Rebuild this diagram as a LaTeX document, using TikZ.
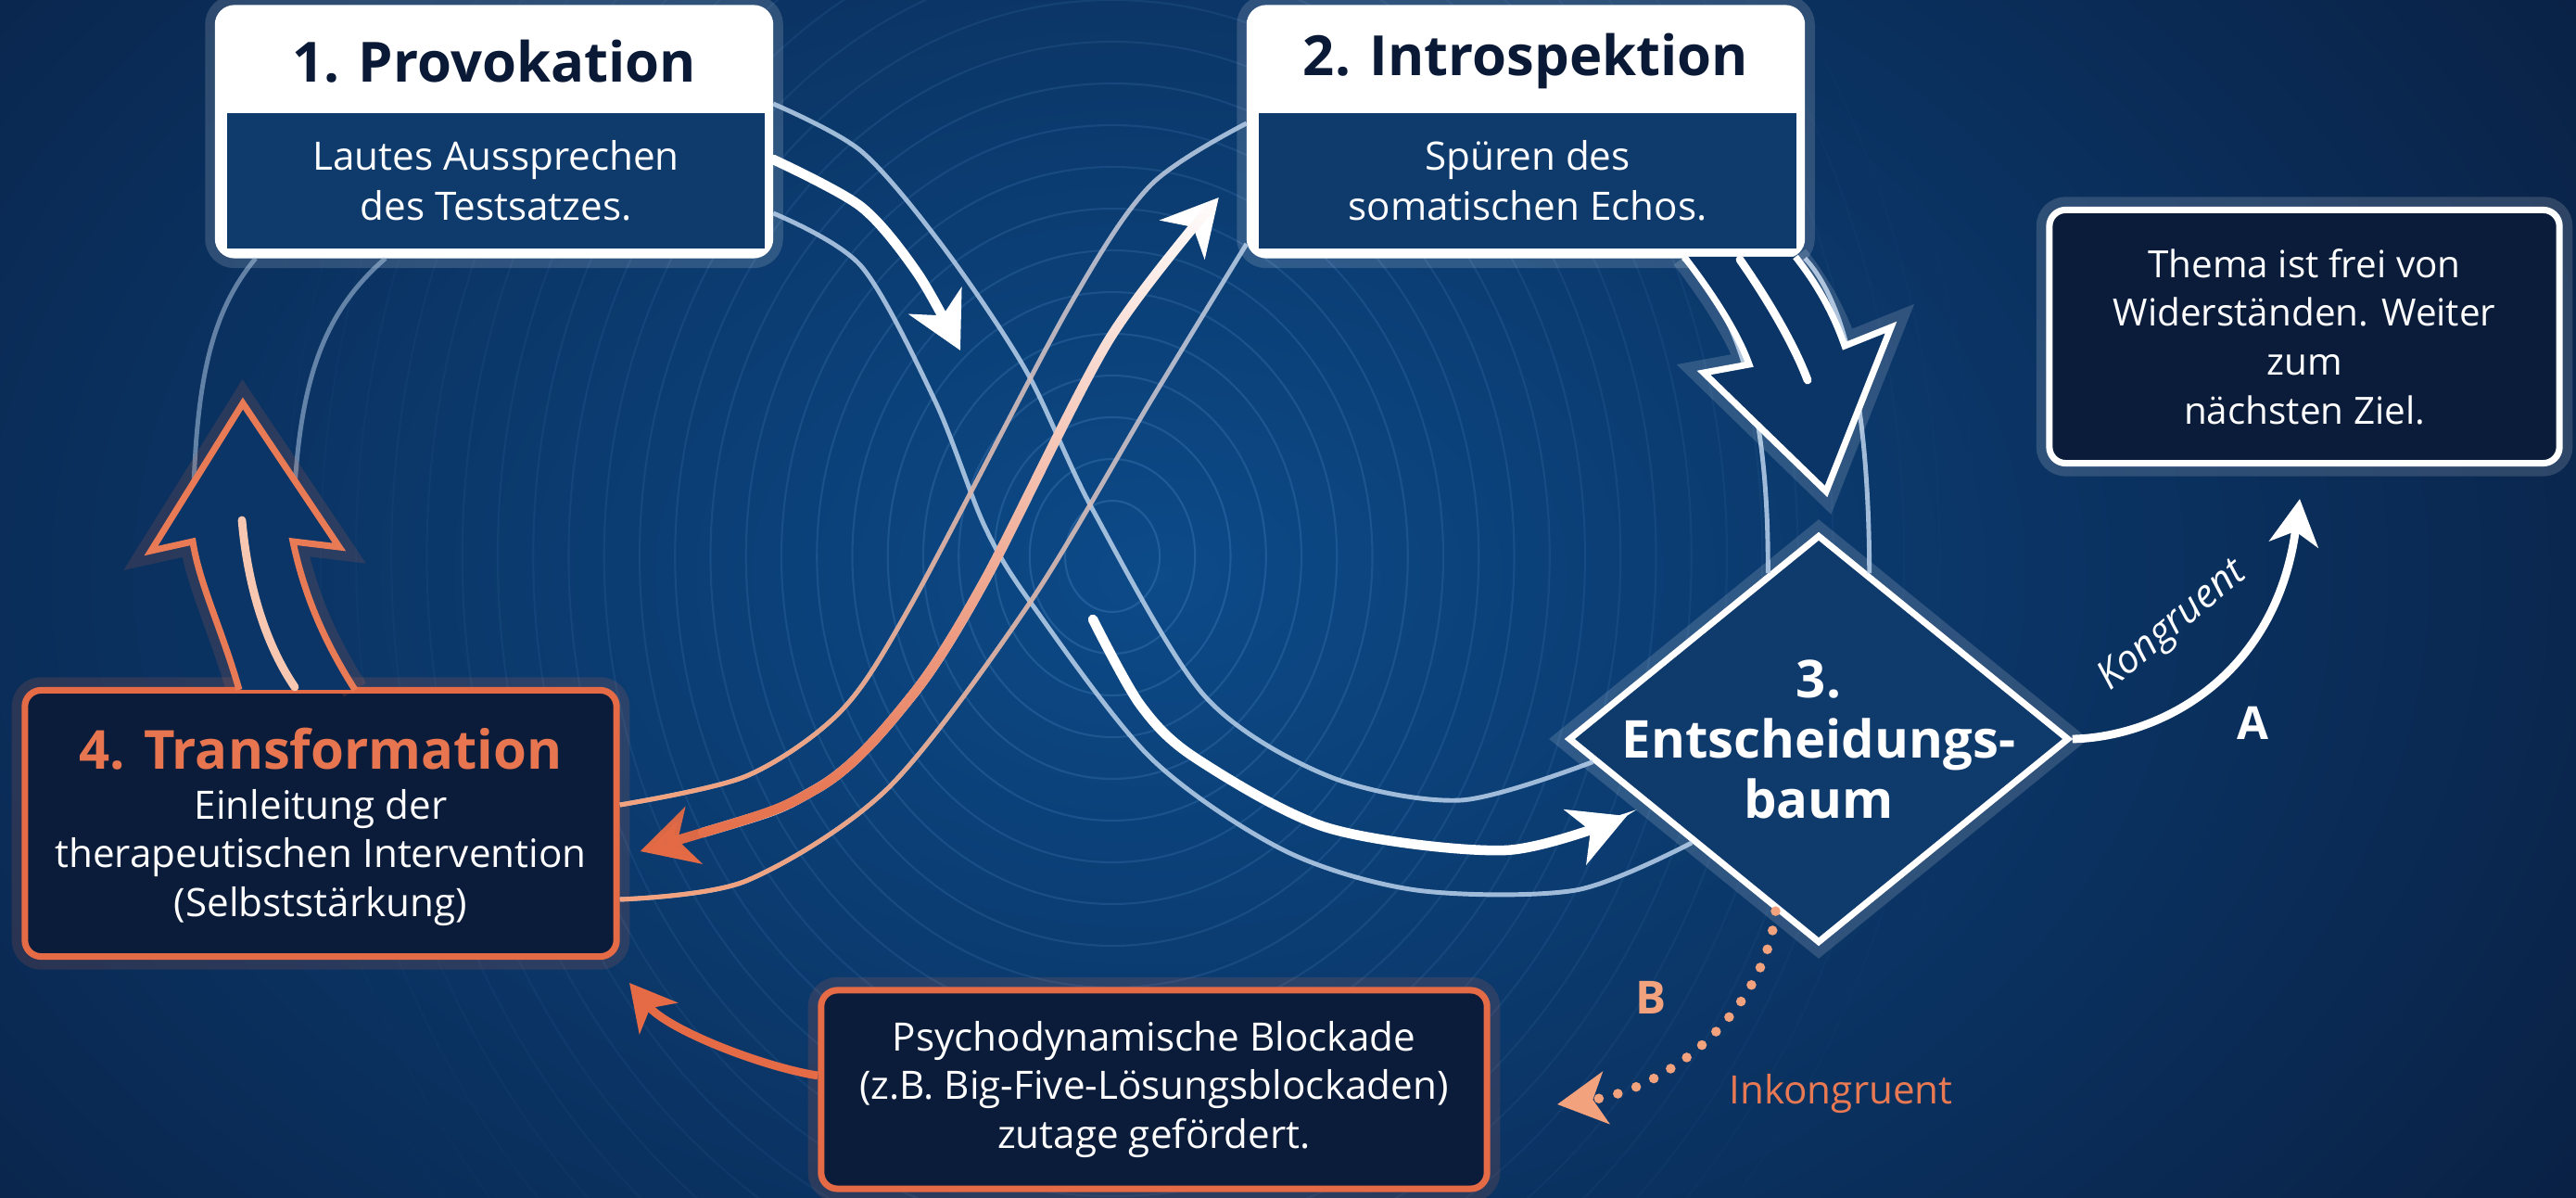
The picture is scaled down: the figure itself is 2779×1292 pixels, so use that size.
\documentclass[tikz,border=0pt]{standalone}
\usepackage{fontspec}
\setmainfont{Open Sans}
\usetikzlibrary{calc,shapes.geometric,arrows.meta,fadings}

\definecolor{bgdark}{HTML}{091C3D}
\definecolor{bgmid}{HTML}{0C4A88}
\definecolor{ringblue}{HTML}{5E9CD8}
\definecolor{bandblue}{HTML}{BBD2EC}
\definecolor{navytext}{HTML}{0A1A36}
\definecolor{panelblue}{HTML}{0F3A6C}
\definecolor{darkbox}{HTML}{0B1C3A}
\definecolor{warmorange}{HTML}{E46B45}
\definecolor{peach}{HTML}{F3A27E}

\tikzset{
    glow/.style={preaction={draw=#1, line width=8pt, opacity=0.15}},
    glow/.default=white,
    card/.style={draw=white, fill=white, line width=2pt, rounded corners=5pt,
        minimum width=5.95cm, minimum height=2.66cm, glow},
    cardpanel/.style={fill=panelblue, minimum width=5.8cm, minimum height=1.45cm,
        text=white, align=center, font=\fontsize{12}{15.5}\selectfont},
    cardtitle/.style={text=navytext, font=\fontsize{17}{20}\selectfont\bfseries},
    infobox/.style={draw=white, fill=darkbox, line width=2pt, rounded corners=5pt,
        text=white, align=center, font=\fontsize{11.5}{15}\selectfont, glow},
    warmbox/.style={draw=warmorange, fill=darkbox, line width=2pt, rounded corners=5pt,
        glow=warmorange},
    warmtitle/.style={text=warmorange!80!peach, font=\fontsize{16.5}{20}\selectfont\bfseries},
    bodytext/.style={text=white, align=center, font=\fontsize{12}{14.8}\selectfont},
    decision/.style={diamond, draw=white, fill=panelblue, line width=2pt,
        minimum width=5.4cm, minimum height=4.4cm, inner sep=0pt, glow},
    ringline/.style={draw=ringblue, line width=0.6pt},
    bandline/.style={draw=bandblue, line width=1.4pt, opacity=0.85},
    flowline/.style={draw=white, line width=3pt, line cap=round,
        -{Stealth[length=17pt, width=18pt, inset=5pt]}},
    hollowarrow/.style={line width=2pt, line join=miter, fill=bgdark!45!bgmid},
    warmline/.style={draw=warmorange, line width=2.5pt,
        -{Stealth[length=14pt, width=15pt, inset=4pt]}},
    whiteline/.style={draw=white, line width=2.5pt,
        -{Stealth[length=14pt, width=15pt, inset=4pt]}},
    dotline/.style={draw=peach, line width=3pt, line cap=round, dash pattern=on 0pt off 6pt,
        -{Stealth[length=15pt, width=16pt, inset=4pt]}},
}

\begin{document}
\begin{tikzpicture}[x=0.01cm, y=-0.01cm]
    \useasboundingbox (0, 0) rectangle (2779, 1292);
    \fill[bgdark] (0, 0) rectangle (2779, 1292);
    \shade[inner color=bgmid, outer color=bgdark] (1250, 620) ellipse (2000 and 1400);
    \foreach \rad in {60, 105, ..., 1100}
        \draw[ringline, opacity={0.26*(1-\rad/1150)}] (1200, 600) ellipse ({0.85*\rad} and \rad);

    \node[card] (prov) at (533, 142) {};
    \node[cardpanel] (provtext) at (535, 195) {Lautes Aussprechen\\des Testsatzes.};
    \node[cardtitle] (provtitle) at (533, 66) {1. Provokation};

    \node[card] (intro) at (1646, 142) {};
    \node[cardpanel] (introtext) at (1648, 195) {Spüren des\\somatischen Echos.};
    \node[cardtitle] (introtitle) at (1646, 66) {2. Introspektion};

    \node[infobox, minimum width=5.5cm, minimum height=2.73cm] (goal) at (2486, 363)
        {Thema ist frei von\\Widerständen. Weiter\\zum\\nächsten Ziel.};

    \node[decision] (tree) at (1962, 797) {};
    \node[text=white, align=center, font=\fontsize{16}{18.5}\selectfont\bfseries] (treetext)
        at (1962, 797) {3.\\Entscheidungs-\\baum};

    \node[warmbox, minimum width=6.38cm, minimum height=2.87cm] (trans) at (346, 888) {};
    \node[warmtitle] (transtitle) at (346, 808) {4. Transformation};
    \node[bodytext] (transtext) at (346, 925)
        {Einleitung der\\therapeutischen Intervention\\(Selbststärkung)};

    \node[warmbox, bodytext, minimum width=7.18cm, minimum height=2.14cm] (block) at (1245, 1175)
        {Psychodynamische Blockade\\(z.B. Big-Five-Lösungsblockaden)\\zutage gefördert.};

    \coordinate (a-up) at ($(prov.east)+(0, -30)$);
    \coordinate (a-mid) at ($(prov.east)+(0, 30)$);
    \coordinate (a-low) at ($(prov.east)+(0, 88)$);
    \coordinate (a-up-end) at ($(tree.west)!0.11!(tree.south)$);
    \coordinate (a-low-end) at ($(tree.west)!0.5!(tree.south)$);
    \coordinate (a-tip) at (1755, 880);

    \draw[bandline] plot[smooth] coordinates {(a-up) (929, 163) (1018, 267) (1107, 400)
        (1179, 550) (1299, 750) (1433, 837) (1576, 863) (a-up-end)};
    \draw[bandline] plot[smooth] coordinates {(a-low) (929, 287) (1009, 433) (1062, 567)
        (1112, 650) (1241, 817) (1385, 917) (1528, 960) (1700, 960) (a-low-end)};
    \draw[flowline] plot[smooth] coordinates {(a-mid) (929, 223) (990, 295) (1036, 378)};
    \draw[flowline] plot[smooth] coordinates {(1179, 668) (1230, 760) (1289, 817) (1433, 893)
        (1624, 917) (a-tip)};

    \coordinate (b-up) at ($(trans.east)+(0, -20)$);
    \coordinate (b-mid) at ($(trans.east)+(22, 30)$);
    \coordinate (b-low) at ($(trans.east)+(0, 82)$);
    \coordinate (b-up-end) at ($(intro.west)+(0, -9)$);
    \coordinate (b-tip) at ($(intro.west)+(-30, 71)$);
    \coordinate (b-low-end) at ($(intro.west)+(0, 121)$);

    \draw[bandline] plot[smooth] coordinates {(b-up) (805, 837) (907, 767) (984, 650)
        (1152, 333) (1241, 200) (b-up-end)};
    \draw[bandline, draw=peach, opacity=1, path fading=north] plot[smooth] coordinates {(b-up)
        (805, 837) (907, 767) (984, 650) (1152, 333) (1241, 200) (b-up-end)};
    \draw[bandline] plot[smooth] coordinates {(b-low) (805, 950) (958, 850) (1111, 650)
        (1241, 433) (b-low-end)};
    \draw[bandline, draw=peach, opacity=1, path fading=north] plot[smooth] coordinates {(b-low)
        (805, 950) (958, 850) (1111, 650) (1241, 433) (b-low-end)};
    \draw[flowline, shorten <=20pt] plot[smooth] coordinates {(b-mid) (882, 850) (984, 750)
        (1063, 625) (1196, 367) (b-tip)};
    \draw[flowline, draw=warmorange, path fading=north, {Stealth[length=17pt, width=18pt, inset=5pt]}-]
        plot[smooth] coordinates {(b-mid) (882, 850) (984, 750) (1063, 625)
        (1196, 367) (b-tip)};

    \draw[bandline] ($(intro.south)+(170, 0)$) .. controls (1880, 340) and (1908, 450)
        .. ($(tree.north)!0.2!(tree.west)$);
    \draw[bandline] (intro.south east) .. controls (1995, 330) and (2016, 450)
        .. ($(tree.north)!0.2!(tree.east)$);
    \draw[bandline, opacity=0.5] ($(prov.south west)+(44, 0)$) .. controls (225, 340) and (208, 420) .. (208, 590);
    \draw[bandline, opacity=0.5] ($(prov.south west)+(184, 0)$) .. controls (345, 340) and (318, 420) .. (316, 585);

    \draw[hollowarrow, draw=white, glow] (1817, 277) .. controls (1850, 320) and (1875, 360) .. (1887, 393)
        -- (1838, 402) -- (1970, 530) -- (2040, 353) -- (1990, 373)
        .. controls (1975, 330) and (1955, 300) .. (1937, 277);
    \draw[white, line width=2.5pt, line cap=round] (1877, 280) .. controls (1905, 320) and (1935, 370) .. (1950, 410);

    \draw[hollowarrow, draw=warmorange!70!peach, glow=warmorange] (258, 744) .. controls (240, 680) and (215, 630) .. (208, 584)
        -- (163, 594) -- (262, 435) -- (366, 590) -- (316, 584)
        .. controls (330, 650) and (355, 700) .. (383, 744);
    \draw[peach!60!white, line width=2.5pt, line cap=round] (261, 561) .. controls (268, 640) and (290, 700) .. (318, 741);

    \coordinate (ret-tip) at (679, 1060);
    \draw[warmline] ($(block.west)+(0, -15)$) .. controls (820, 1150) and (720, 1110) .. (ret-tip);

    \coordinate (inc-start) at ($(tree.west)!0.83!(tree.south)$);
    \coordinate (inc-tip) at (1680, 1191);
    \draw[dotline] (inc-start) .. controls (1905, 1090) and (1800, 1175) .. (inc-tip);

    \coordinate (kong-tip) at ($(goal.south)+(-5, 35)$);
    \draw[whiteline] (tree.east) .. controls (2330, 795) and (2455, 730) .. (kong-tip);

    \node[rotate=40, text=white, font=\fontsize{12}{14}\selectfont\itshape] (konglabel) at (2344, 676) {Kongruent};
    \node[text=white, font=\fontsize{14}{16}\selectfont\bfseries] (alabel) at (2430, 780) {A};
    \node[text=peach, font=\fontsize{14}{16}\selectfont\bfseries] (blabel) at (1781, 1076) {B};
    \node[text=warmorange!75!peach, font=\fontsize{12}{14}\selectfont] (inklabel) at (1986, 1180) {Inkongruent};

\end{tikzpicture}
\end{document}
